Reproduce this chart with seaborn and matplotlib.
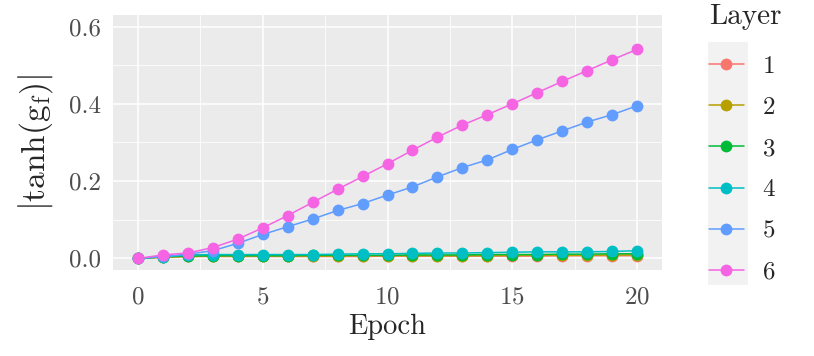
import matplotlib
matplotlib.use("Agg")
import matplotlib.pyplot as plt
from matplotlib.lines import Line2D
from matplotlib.patches import Rectangle
import numpy as np
import pandas as pd
import seaborn as sns

# data
epochs = list(range(21))
layers = ["1", "2", "3", "4", "5", "6"]
layer1 = [0, 0.003, 0.005, 0.005, 0.005, 0.005, 0.005, 0.005, 0.005, 0.005, 0.006,
          0.006, 0.006, 0.006, 0.006, 0.006, 0.006, 0.007, 0.007, 0.007, 0.007]
layer2 = [0, 0.003, 0.005, 0.006, 0.006, 0.006, 0.006, 0.006, 0.006, 0.007, 0.007,
          0.007, 0.007, 0.007, 0.007, 0.008, 0.008, 0.008, 0.008, 0.009, 0.009]
layer3 = [0, 0.004, 0.006, 0.007, 0.007, 0.007, 0.007, 0.008, 0.008, 0.008, 0.008,
          0.009, 0.009, 0.009, 0.010, 0.010, 0.010, 0.011, 0.011, 0.012, 0.012]
layer4 = [0, 0.004, 0.009, 0.010, 0.010, 0.010, 0.010, 0.010, 0.011, 0.012, 0.012,
          0.013, 0.014, 0.014, 0.015, 0.016, 0.017, 0.017, 0.017, 0.018, 0.020]
layer5 = [0, 0.005, 0.011, 0.020, 0.039, 0.062, 0.082, 0.102, 0.124, 0.142, 0.164,
          0.185, 0.211, 0.235, 0.255, 0.282, 0.307, 0.330, 0.353, 0.372, 0.395]
layer6 = [0, 0.009, 0.014, 0.028, 0.050, 0.079, 0.111, 0.145, 0.179, 0.212, 0.245,
          0.280, 0.314, 0.345, 0.372, 0.400, 0.429, 0.458, 0.486, 0.514, 0.541]
series = [layer1, layer2, layer3, layer4, layer5, layer6]
colors = ["#F8766D", "#B79F00", "#00BA38", "#00BFC4", "#619CFF", "#F564E3"]

df = pd.DataFrame({
    "Epoch": epochs * len(layers),
    "value": np.concatenate(series),
    "Layer": np.repeat(layers, len(epochs)),
})

sns.set_theme(style="darkgrid")
plt.rcParams["font.family"] = "serif"
plt.rcParams["font.serif"] = ["cmr10"]
plt.rcParams["mathtext.fontset"] = "cm"
plt.rcParams["axes.formatter.use_mathtext"] = True

fig = plt.figure(figsize=(8.14, 3.56), dpi=100)
ax = fig.add_axes([113 / 814, 86 / 356, 549 / 814, 255 / 356])
ax.set_facecolor("#EBEBEB")

sns.lineplot(data=df, x="Epoch", y="value", hue="Layer", palette=colors,
             marker="o", markersize=8.5, markeredgewidth=0, linewidth=1.1,
             legend=False, ax=ax)

ax.set_xlim(-1, 21)
ax.set_ylim(-0.03, 0.63)
ax.set_xticks([0, 5, 10, 15, 20])
ax.set_xticks([2.5, 7.5, 12.5, 17.5], minor=True)
ax.set_yticks([0, 0.2, 0.4, 0.6])
ax.set_yticks([0.1, 0.3, 0.5], minor=True)
ax.set_yticklabels(["0.0", "0.2", "0.4", "0.6"])
ax.grid(which="major", color="white", linewidth=1.1)
ax.grid(which="minor", color="white", linewidth=0.55)
for s in ax.spines.values():
    s.set_visible(False)
ax.tick_params(which="major", length=4.5, width=1, color="#333333",
               labelsize=18, labelcolor="#4D4D4D", pad=4)
ax.tick_params(axis="x", which="major", pad=7)
ax.tick_params(which="minor", length=0)
ax.set_xlabel("Epoch", fontsize=20.5, labelpad=4)
ax.set_ylabel(r"$\left|\tanh(\mathrm{g_f})\right|$", fontsize=24, labelpad=10)

# legend with ggplot-like grey key column
handles = [Line2D([], [], color=c, marker="o", markersize=8.5, markeredgewidth=0,
                  linewidth=1.1) for c in colors]
leg = fig.legend(handles, layers, title="Layer", loc="upper left",
                 bbox_to_anchor=(705 / 814, 1.0), frameon=False, fontsize=18,
                 title_fontsize=21, handlelength=1.4, handletextpad=0.75,
                 labelspacing=0.75, alignment="left", borderaxespad=0.0,
                 borderpad=0.15)
leg._legend_box.sep += 4.5  # extra gap under the title, as in ggplot
fig.patches.append(Rectangle((708 / 814, (356 - 285) / 356), 40 / 814, 243 / 356,
                             transform=fig.transFigure, facecolor="#F2F2F2",
                             edgecolor="none", zorder=0))

fig.savefig("out.png", dpi=100, facecolor="white")
